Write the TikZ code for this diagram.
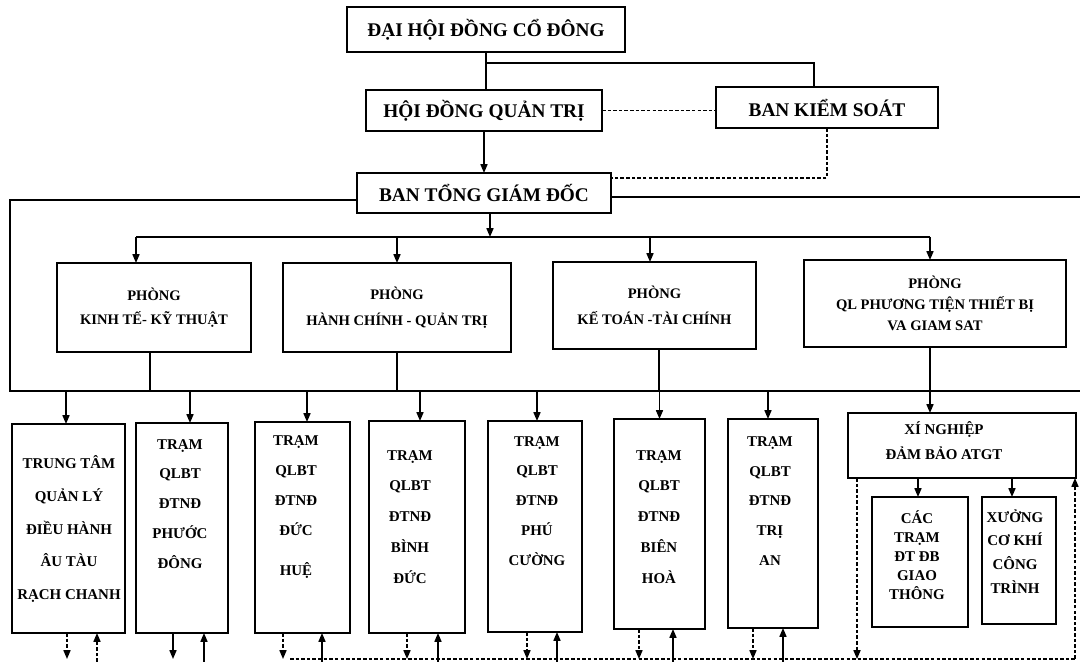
\documentclass[tikz,border=0pt]{standalone}
\usepackage{fontspec}
\setmainfont{Liberation Serif}
\usetikzlibrary{arrows.meta}

\tikzset{
  bx/.style 2 args={minimum width=#1*0.02cm, minimum height=#2*0.02cm},
  box/.style={draw, inner sep=0pt, outer sep=0pt},
  topbox/.style={box, font=\fontsize{11}{13}\selectfont\bfseries},
  dept/.style={box, align=center, font=\fontsize{8.3}{#1}\selectfont\bfseries},
  dept/.default=15,
  tramtxt/.style={align=center, inner sep=0pt, font=\fontsize{8.5}{#1}\selectfont\bfseries},
  tramtxt/.default=17,
  arr/.style={-{Triangle[length=5pt,width=4pt]}},
  dsh/.style={dash pattern=on 2pt off 1.2pt},
}

\begin{document}
\begin{tikzpicture}[x=0.02cm,y=-0.02cm,line width=0.8pt]
  \fill[white] (0,0) rectangle (1080,662);
  \useasboundingbox (0,0) rectangle (1080,662);

  % top levels
  \node[topbox,bx={278}{45}] (dh) at (486,29.5) {ĐẠI HỘI ĐỒNG CỔ ĐÔNG};
  \node[topbox,bx={236}{41}] (hd) at (484,110.5) {HỘI ĐỒNG QUẢN TRỊ};
  \node[topbox,bx={222}{41}] (bks) at (827,107.5) {BAN KIỂM SOÁT};
  \node[topbox,bx={254}{40}] (btgd) at (484,193) {BAN TỔNG GIÁM ĐỐC};

  \path (dh.south) ++(0,11) coordinate (j1);
  \draw (dh.south) -- (dh.south |- hd.north);
  \draw (j1) -| ([xshift=-0.26cm]bks.north);
  \draw[dsh] (hd.east) -- (hd.east -| bks.west);
  \draw[arr] (hd.south) -- (hd.south |- btgd.north);
  \draw[dsh] (bks.south) |- ([yshift=0.3cm]btgd.east);

  % phong ban
  \node[dept=14,bx={194}{89}] (p1) at (154,307.5) {PHÒNG\\KINH TẾ- KỸ THUẬT};
  \node[dept,bx={228}{89}] (p2) at (397,307.5) {PHÒNG\\HÀNH CHÍNH - QUẢN TRỊ};
  \node[dept,bx={203}{87}] (p3) at (654.5,305.5) {PHÒNG\\KẾ TOÁN -TÀI CHÍNH};
  \node[dept=12,bx={262}{87}] (p4) at (935,303.5) {PHÒNG\\QL PHƯƠNG TIỆN THIẾT BỊ\\VA GIAM SAT};

  \coordinate (lb) at (10,391);
  \coordinate (rb) at (1080,391);
  \coordinate (rt) at (1080,197);
  \draw ([yshift=-0.14cm]btgd.west) -| (lb) -- (rb);
  \draw ([yshift=-0.08cm]btgd.east) -- ([yshift=-0.08cm]btgd.east -| rt);

  \path ([xshift=0.12cm]btgd.south) ++(0,24) coordinate (bus);
  \draw[arr] ([xshift=0.12cm]btgd.south) -- (bus);
  \draw ([xshift=-0.36cm]p1.north |- bus) -- ([xshift=-0.1cm]p4.north |- bus);
  \foreach \n/\dx in {p1/-0.36,p2/0,p3/-0.09,p4/-0.1}
    \draw[arr] ([xshift=\dx cm]\n.north |- bus) -- ([xshift=\dx cm]\n.north);
  \foreach \n/\dx in {p1/-0.08,p2/0,p3/0.09}
    \draw ([xshift=\dx cm]\n.south) -- ([xshift=\dx cm]\n.south |- lb);

  % tram
  \node[box,bx={113}{209}] (s1) at (68.5,528.5) {};
  \node[box,bx={92}{210}] (s2) at (182,528) {};
  \node[box,bx={95}{211}] (s3) at (302.5,527.5) {};
  \node[box,bx={96}{212}] (s4) at (417,527) {};
  \node[box,bx={94}{211}] (s5) at (535,526.5) {};
  \node[box,bx={91}{210}] (s6) at (659.5,524) {};
  \node[box,bx={90}{209}] (s7) at (773,523.5) {};
  \node[tramtxt=18.7] (s1t) at (69,529) {TRUNG TÂM\\QUẢN LÝ\\ĐIỀU HÀNH\\ÂU TÀU\\RẠCH CHANH};
  \node[tramtxt] (s2t) at (180,504) {TRẠM\\QLBT\\ĐTNĐ\\PHƯỚC\\ĐÔNG};
  \node[tramtxt] (s3t) at (296,507) {TRẠM\\QLBT\\ĐTNĐ\\ĐỨC\\[0.2cm]HUỆ};
  \node[tramtxt=17.6] (s4t) at (410,517) {TRẠM\\QLBT\\ĐTNĐ\\BÌNH\\ĐỨC};
  \node[tramtxt] (s5t) at (537,501) {TRẠM\\QLBT\\ĐTNĐ\\PHÚ\\CƯỜNG};
  \node[tramtxt=17.6] (s6t) at (659,517) {TRẠM\\QLBT\\ĐTNĐ\\BIÊN\\HOÀ};
  \node[tramtxt] (s7t) at (770,501) {TRẠM\\QLBT\\ĐTNĐ\\TRỊ\\AN};

  % xi nghiep
  \node[box,bx={228}{65}] (xn) at (962,445.5) {};
  \node[box,bx={96}{130}] (ct) at (920,562) {};
  \node[box,bx={74}{127}] (xg) at (1019,560.5) {};
  \node[tramtxt=14.2] (xnt) at (944,440.5) {XÍ NGHIỆP\\ĐẢM BẢO ATGT};
  \node[tramtxt=10.8] (ctt) at (917,555.5) {CÁC\\TRẠM\\ĐT ĐB\\GIAO\\THÔNG};
  \node[tramtxt=13.6] (xgt) at (1015,551.5) {XƯỞNG\\CƠ KHÍ\\CÔNG\\TRÌNH};

  \draw[arr] ([xshift=-0.1cm]p4.south) -- ([xshift=-0.1cm]p4.south |- xn.north);
  \foreach \n/\dx in {s1/-0.05,s2/0.16,s3/0.09,s4/0.06,s5/0.04,s6/0,s7/-0.1}
    \draw[arr] ([xshift=\dx cm]\n.north |- lb) -- ([xshift=\dx cm]\n.north);
  \draw[arr] ([xshift=-0.04cm]ct.north |- xn.south) -- ([xshift=-0.04cm]ct.north);
  \draw[arr] ([xshift=-0.14cm]xg.north |- xn.south) -- ([xshift=-0.14cm]xg.north);

  % lien he phia duoi
  \coordinate (bl) at (290,659);
  \coordinate (br) at (1075,659);
  \coordinate (bot) at (0,662);
  \draw[dsh] (bl) -- (br);
  \draw[dsh,arr] (br) -- (br |- xn.south);
  \draw[dsh,arr] ([xshift=-2.1cm]xn.south) -- ([xshift=-2.1cm]xn.south |- bl);
  \foreach \n/\da/\db/\sa/\sb in {s1/-0.03/0.57/dsh/dsh, s2/-0.18/0.44/solid/solid,
      s3/-0.39/0.39/dsh/solid, s4/-0.2/0.42/dsh/solid, s5/-0.16/0.44/dsh/solid,
      s6/-0.41/0.27/dsh/solid, s7/-0.4/0.2/dsh/solid} {
    \draw[\sa,arr] ([xshift=\da cm]\n.south) -- ([xshift=\da cm]\n.south |- bl);
    \draw[\sb,arr] ([xshift=\db cm]\n.south |- bot) -- ([xshift=\db cm]\n.south);
  }
\end{tikzpicture}
\end{document}
